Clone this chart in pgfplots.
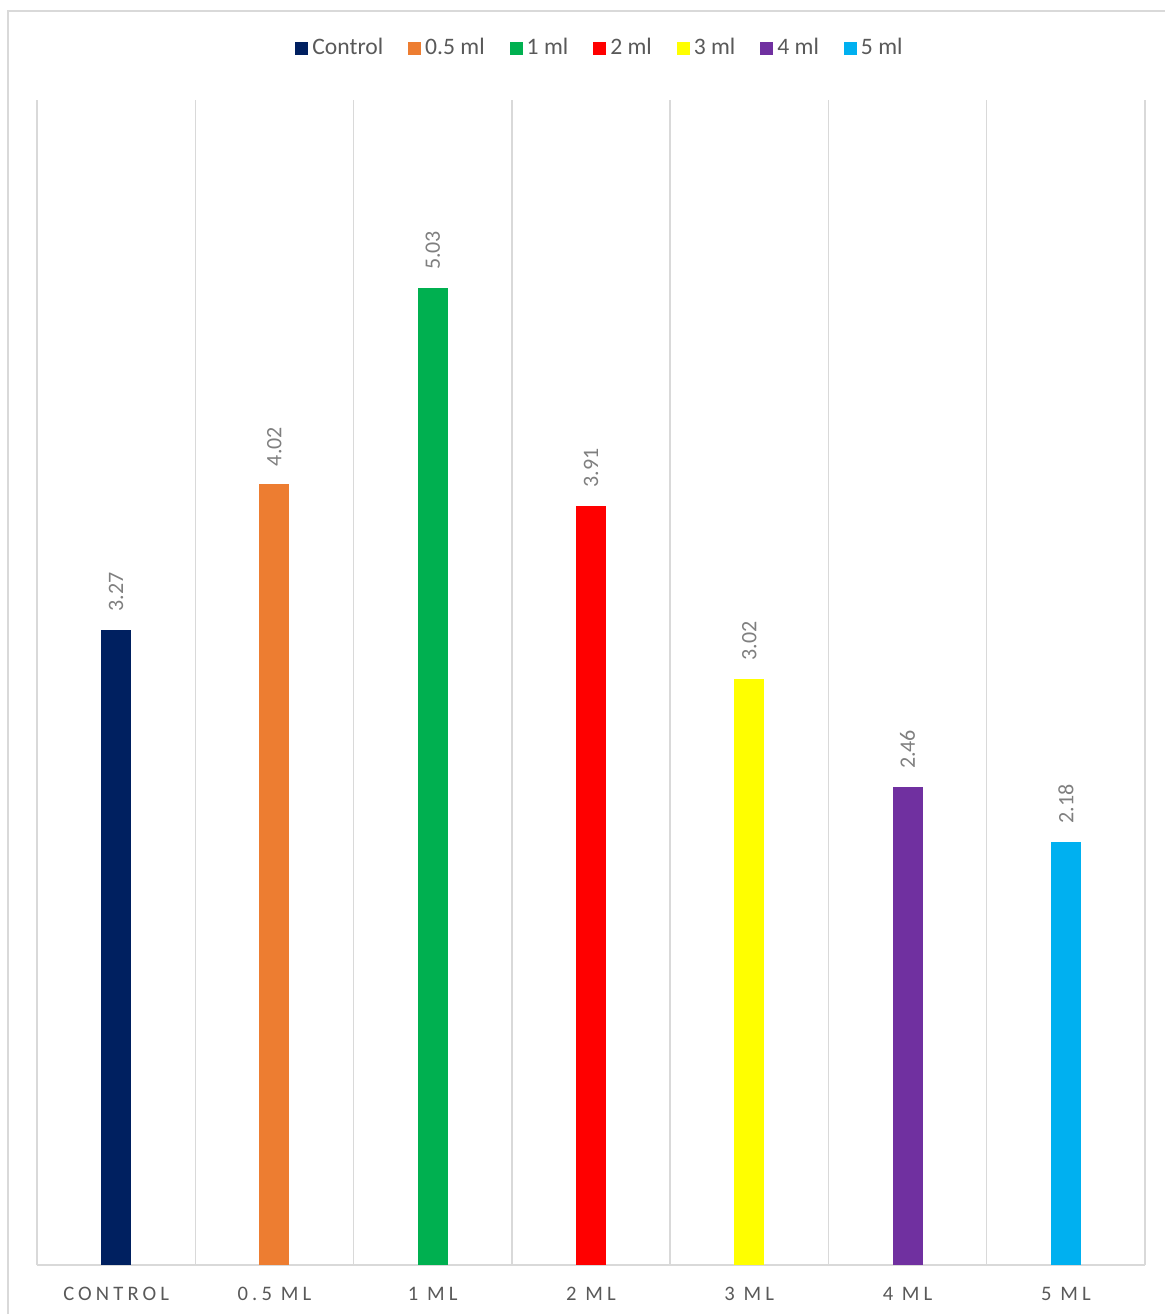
\documentclass[border=0pt]{standalone}
\usepackage{pgfplots}
\pgfplotsset{compat=1.18}
\usepackage{fontspec}
\setmainfont{Carlito}
\newfontfamily\spaced[LetterSpace=20]{Carlito}

\definecolor{cControl}{HTML}{002060}
\definecolor{cHalf}{HTML}{ED7D31}
\definecolor{cOne}{HTML}{00B050}
\definecolor{cTwo}{HTML}{FF0000}
\definecolor{cThree}{HTML}{FFFF00}
\definecolor{cFour}{HTML}{7030A0}
\definecolor{cFive}{HTML}{00B0F0}
\definecolor{gridgray}{HTML}{D9D9D9}
\definecolor{textgray}{HTML}{595959}
\definecolor{labelgray}{HTML}{7F7F7F}

\begin{document}
\begin{tikzpicture}
\useasboundingbox (0,0) rectangle (582.5pt,657pt);
% outer chart frame (cropped on the right and bottom)
\draw[gridgray, line width=0.75pt] (4pt,0pt) -- (4pt,651.5pt) -- (582.5pt,651.5pt);
\begin{axis}[
	at={(18.5pt,24.5pt)}, anchor=south west,
	scale only axis,
	width=554pt, height=582.5pt,
	ybar,
	bar width=15pt,
	xmin=-0.5, xmax=6.5,
	ymin=0, ymax=6,
	axis x line=bottom,
	axis y line=none,
	x axis line style={-, draw=gridgray, line width=0.75pt},
	xtick={0,...,6},
	xticklabels={CONTROL,0.5 ML,1 ML,2 ML,3 ML,4 ML,5 ML},
	major tick length=0pt,
	minor tick length=0pt,
	minor xtick={-0.5,0.5,...,6.5},
	xminorgrids=true,
	minor grid style={draw=gridgray, line width=0.75pt},
	ytick=\empty,
	xticklabel style={font=\spaced\fontsize{10.3}{12}\selectfont, text=textgray, inner sep=0pt, yshift=-11pt},
	/pgf/number format/assume math mode=true,
	nodes near coords={\pgfmathprintnumber[fixed,precision=2,fixed zerofill]{\pgfplotspointmeta}},
	every node near coord/.append style={rotate=90, anchor=west, inner ysep=0pt, inner xsep=9pt,
		font=\fontsize{11}{13}\selectfont, text=labelgray},
	legend columns=-1,
	legend style={at={(0.509,1.0446)}, anchor=center, draw=none, fill=none,
		font=\fontsize{11.8}{14}\selectfont, text=textgray,
		/tikz/every even column/.append style={column sep=10.5pt}},
	legend image code/.code={\fill[#1] (0pt,-3.25pt) rectangle (6.5pt,3.25pt);},
]
\addplot[fill=cControl, draw=none, bar shift=0pt] coordinates {(0,3.27)};
\addplot[fill=cHalf, draw=none, bar shift=0pt] coordinates {(1,4.02)};
\addplot[fill=cOne, draw=none, bar shift=0pt] coordinates {(2,5.03)};
\addplot[fill=cTwo, draw=none, bar shift=0pt] coordinates {(3,3.91)};
\addplot[fill=cThree, draw=none, bar shift=0pt] coordinates {(4,3.02)};
\addplot[fill=cFour, draw=none, bar shift=0pt] coordinates {(5,2.46)};
\addplot[fill=cFive, draw=none, bar shift=0pt] coordinates {(6,2.18)};
\legend{Control,0.5 ml,1 ml,2 ml,3 ml,4 ml,5 ml}
\end{axis}
\end{tikzpicture}
\end{document}
